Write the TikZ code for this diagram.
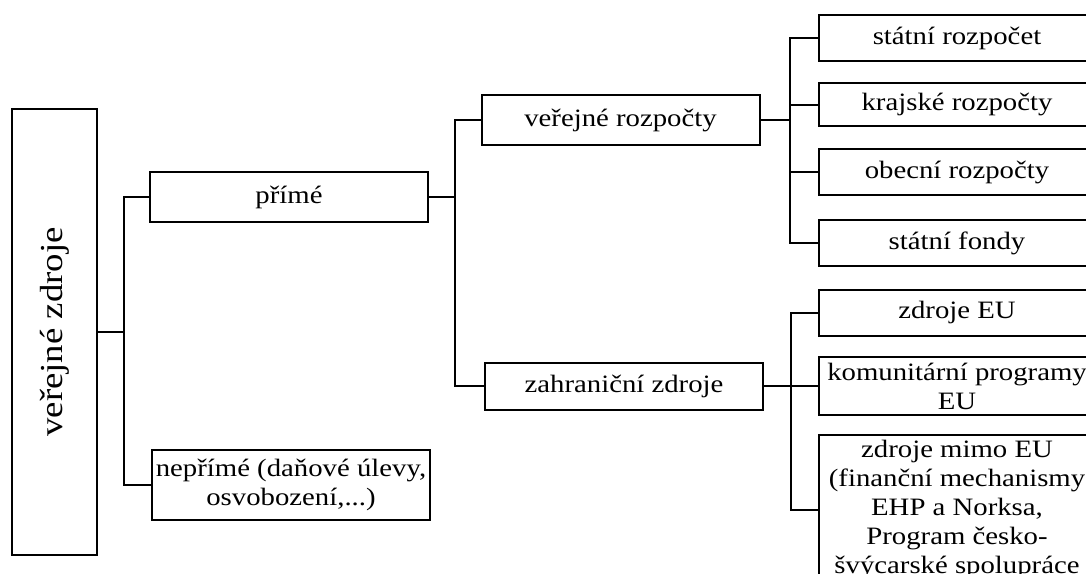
\documentclass[tikz,border=0pt]{standalone}
\usepackage{fontspec}
\setmainfont{Liberation Serif}[FakeStretch=1.15]
\usepackage{tikz}
\tikzset{
every picture/.style={line width=2pt}, % thickness of all boxes and connectors
box/.style={draw, align=center, inner sep=0pt, minimum width=278pt, minimum height=50pt, font=\fontsize{25}{29}\selectfont}, % sets the look of every box
leaf/.style={box, minimum width=276pt, minimum height=46pt}, % boxes in the last column
}

\begin{document}
\begin{tikzpicture}[x=1pt, y=-1pt]

\path[use as bounding box, clip] (0, 0) rectangle (1086, 573);

\node[box, minimum width=85pt, minimum height=446pt] at (54.5, 332) (root) {\fontsize{32}{38}\selectfont\rotatebox{90}{veřejné zdroje}};

\node[box] at (289, 197) (direct) {přímé};
\node[box, minimum height=70pt] at (291, 485) (indirect) {nepřímé (daňové úlevy,\\osvobození,...)};

\node[box] at (620.5, 120) (budgets) {veřejné rozpočty};
\node[box, minimum height=47pt] at (624, 386) (foreign) {zahraniční zdroje};

\node[leaf] at (957, 38) (state) {státní rozpočet};
\node[leaf, minimum height=43pt] at (957, 104.5) (regional) {krajské rozpočty};
\node[leaf] at (957, 172) (municipal) {obecní rozpočty};
\node[leaf] at (957, 243) (funds) {státní fondy};
\node[leaf] at (957, 312.5) (eu) {zdroje EU};
\node[leaf, minimum height=58pt] at (957, 386) (programmes) {komunitární programy\\EU};
\node[leaf, minimum height=150pt] at (957, 510) (noneu) {zdroje mimo EU\\(finanční mechanismy\\EHP a Norksa,\\Program česko-\\švýcarské spolupráce};

\coordinate (f1) at (124, 332);
\coordinate (f2) at (455, 197);
\coordinate (f3) at (790, 120);
\coordinate (f4) at (791, 386);

\draw (root) -- (f1) (f1) |- (direct) (f1) |- (indirect);
\draw (direct) -- (f2) (f2) |- (budgets) (f2) |- (foreign);
\draw (budgets) -- (f3);
\draw (foreign) -- (f4);
\foreach \n in {state, regional, municipal, funds} \draw (f3) |- (\n);
\foreach \n in {eu, programmes, noneu} \draw (f4) |- (\n);

\end{tikzpicture}
\end{document}
